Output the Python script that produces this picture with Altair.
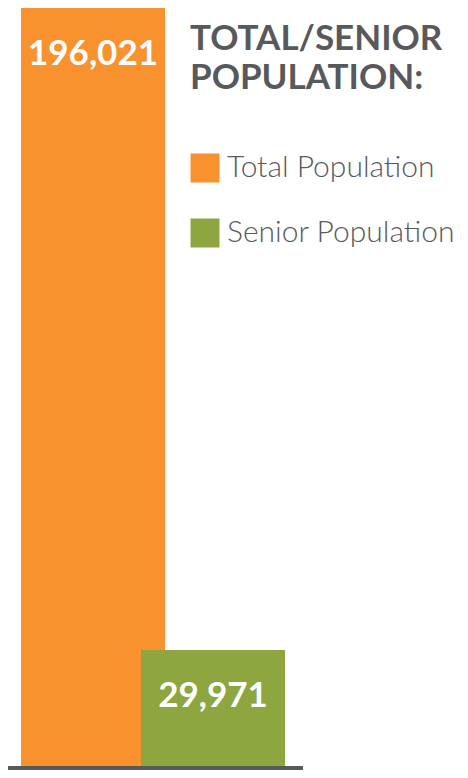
import altair as alt
import pandas as pd

categories = ["Total Population", "Senior Population"]
values = [196021, 29971]
labels = ["196,021", "29,971"]
colors = ["#F7922F", "#8EA640"]

df = pd.DataFrame({"category": categories, "value": values, "label": labels})

x = alt.X("category:N", sort=categories, axis=None,
          scale=alt.Scale(paddingInner=0, paddingOuter=0.2083))
y = alt.Y("value:Q", axis=None, scale=alt.Scale(domain=[0, values[0]], nice=False))

bars = alt.Chart(df).mark_bar(size=144).encode(
    x=x, y=y,
    color=alt.Color("category:N", sort=categories,
                    scale=alt.Scale(domain=categories, range=colors),
                    legend=alt.Legend(
                        title=["TOTAL/SENIOR", "POPULATION:"],
                        orient="none", legendX=182, legendY=14,
                        padding=0,
                        titleFont="Lato", titleFontWeight="bold", titleFontSize=35,
                        titleColor="#58595B", titleLineHeight=39, titleBaseline="top",
                        titleAnchor="start", titleLimit=1000, titlePadding=57,
                        symbolType="square", symbolSize=841, symbolStrokeWidth=0,
                        symbolOpacity=1,
                        labelFont="Lato", labelFontWeight=300, labelFontSize=30,
                        labelColor="#58595B", labelOffset=7, labelLimit=1000,
                        rowPadding=35,
                    )),
)

text = alt.Chart(df).mark_text(
    font="Lato", fontWeight="bold", fontSize=35, color="white",
    align="center", baseline="alphabetic", dy=57,
).encode(x=x, y=y, text="label:N")

base = alt.Chart(df).transform_filter(alt.datum.category == categories[0]).mark_rule(
    color="#58595B", strokeWidth=4, yOffset=2
).encode(y=alt.datum(0), x=alt.value(0), x2=alt.value(295))

chart = alt.layer(bars, text, base).properties(
    width=290, height=758,
    padding={"left": 0, "top": 0, "right": 162, "bottom": 4},
    autosize=alt.AutoSizeParams(type="none"),
    background="white",
).configure_view(stroke=None)

chart.save("out.html", embed_options={"renderer": "svg", "actions": False})
